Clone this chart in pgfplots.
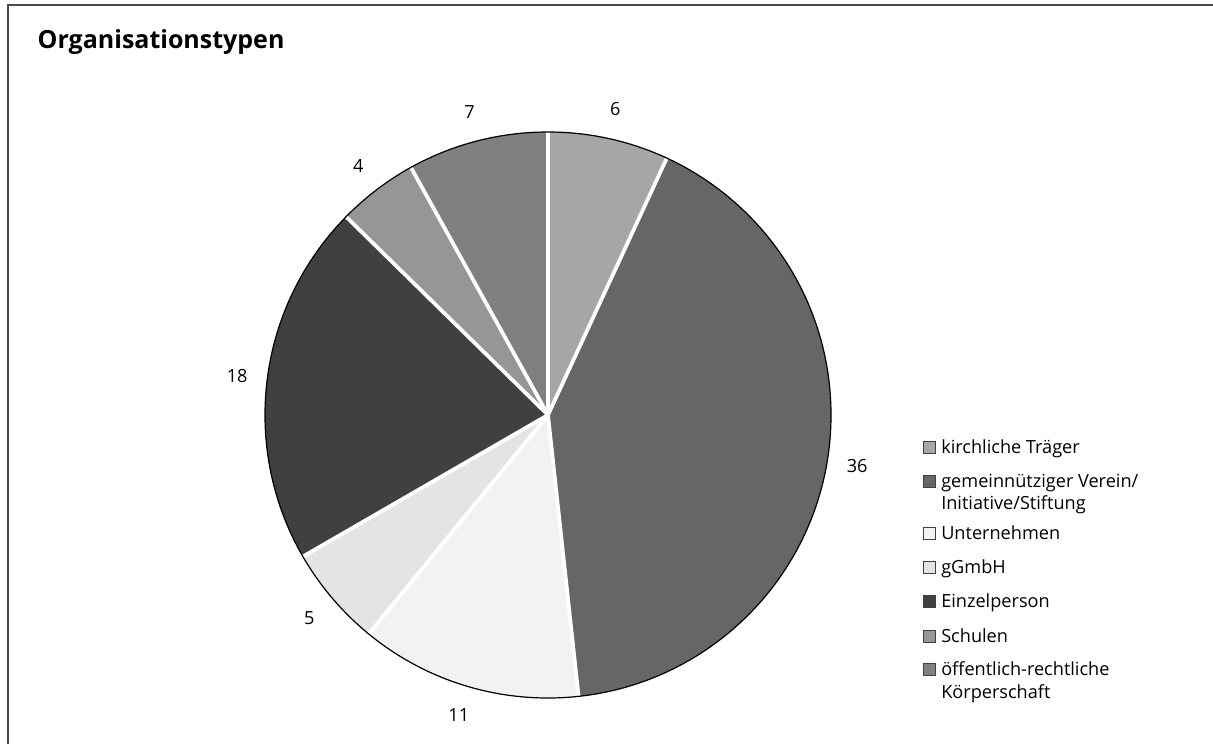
\documentclass[border=0pt]{standalone}
\usepackage{pgfplots}
\pgfplotsset{compat=1.18}
\usepackage{pgfplotstable}
\usepackage{fontspec}
\setmainfont{Open Sans}
\definecolor{sA}{HTML}{A6A6A6}
\definecolor{sB}{HTML}{666666}
\definecolor{sC}{HTML}{F2F2F2}
\definecolor{sD}{HTML}{E4E4E4}
\definecolor{sE}{HTML}{404040}
\definecolor{sF}{HTML}{969696}
\definecolor{sG}{HTML}{808080}
\definecolor{frame}{HTML}{4A4A4A}
\pgfplotstableread{
val col
6 sA
36 sB
11 sC
5 sD
18 sE
4 sF
7 sG
}\pietable
\newcommand\lblfont{\fontsize{13.6}{16}\selectfont}
\begin{document}
\begin{tikzpicture}
\begin{axis}[x=0.75pt,y=0.75pt,xmin=0,xmax=1213,ymin=0,ymax=744,hide axis,clip=false]
% total
\pgfmathsetmacro\pietotal{0}
\pgfplotsforeachungrouped \i in {0,...,6}{%
  \pgfplotstablegetelem{\i}{val}\of\pietable
  \pgfmathsetmacro\pietotal{\pietotal+\pgfplotsretval}%
}
% slices and labels
\pgfmathsetmacro\cum{0}
\pgfplotsforeachungrouped \i in {0,...,6}{%
  \pgfplotstablegetelem{\i}{val}\of\pietable \let\sv=\pgfplotsretval
  \pgfplotstablegetelem{\i}{col}\of\pietable \let\sc=\pgfplotsretval
  \pgfmathsetmacro\aA{90-\cum/\pietotal*360}%
  \pgfmathsetmacro\aB{90-(\cum+\sv)/\pietotal*360}%
  \pgfmathsetmacro\aM{(\aA+\aB)/2}%
  \edef\temp{\noexpand\fill[\sc] (axis cs:548,329) -- ([shift={(\aA:212.25pt)}]axis cs:548,329) arc[start angle=\aA, end angle=\aB, radius=212.25pt] -- cycle;
  \noexpand\node[font=\noexpand\lblfont, text=black] at ([shift={(\aM:235pt)}]axis cs:548,329) {\sv};}%
  \temp
  \pgfmathsetmacro\cum{\cum+\sv}%
}
% white separators
\pgfmathsetmacro\cum{0}
\pgfplotsforeachungrouped \i in {0,...,6}{%
  \pgfplotstablegetelem{\i}{val}\of\pietable \let\sv=\pgfplotsretval
  \pgfmathsetmacro\aA{90-\cum/\pietotal*360}%
  \edef\temp{\noexpand\draw[white, line width=2.8pt] (axis cs:548,329) -- ([shift={(\aA:212.25pt)}]axis cs:548,329);}%
  \temp
  \pgfmathsetmacro\cum{\cum+\sv}%
}
\draw[black, line width=0.9pt] (axis cs:548,329) circle[radius=212.25pt];
% frame
\draw[frame, line width=1.1pt] (axis cs:8,0) -- (axis cs:8,739) -- (axis cs:1213,739);
% title
\node[anchor=base west, font=\bfseries\fontsize{18.75}{22}\selectfont] at (axis cs:33,695) {Organisationstypen};
% legend
\newcommand\legsq[2]{\draw[draw=black!75, fill=#1, line width=0.6pt] (axis cs:923,{744-#2}) rectangle (axis cs:935,{744-#2+12});}
\newcommand\legtx[2]{\node[anchor=base west, font=\lblfont, inner sep=0pt] at (axis cs:941,{744-#1}) {#2};}
\legsq{sA}{453}\legtx{453}{kirchliche Träger}
\legsq{sB}{487}\legtx{487}{gemeinnütziger Verein/}\legtx{509}{Initiative/Stiftung}
\legsq{sC}{539}\legtx{539}{Unternehmen}
\legsq{sD}{573}\legtx{573}{gGmbH}
\legsq{sE}{607}\legtx{607}{Einzelperson}
\legsq{sF}{642}\legtx{642}{Schulen}
\legsq{sG}{675}\legtx{675}{öffentlich-rechtliche}\legtx{698}{Körperschaft}
\end{axis}
\pgfresetboundingbox
\useasboundingbox (0,0) rectangle (909.75pt,558pt);
\end{tikzpicture}
\end{document}
